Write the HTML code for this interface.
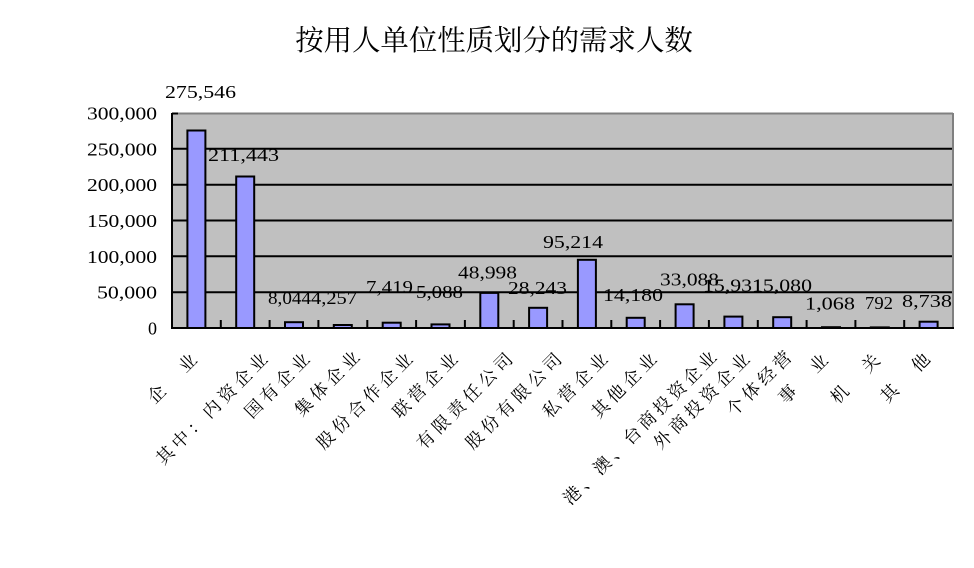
<!DOCTYPE html>
<html><head><meta charset="utf-8"><style>
html,body{margin:0;padding:0;background:#fff;}
svg{display:block;}
.cj{font-family:"Noto Serif CJK SC","Liberation Serif",serif;}
.nm{font-family:"Liberation Serif","Noto Serif CJK SC",serif;font-size:18px;fill:#000;}
</style></head><body>
<svg width="974" height="568" viewBox="0 0 974 568" xmlns="http://www.w3.org/2000/svg">
<rect x="0" y="0" width="974" height="568" fill="#fff"/>
<text class="cj" x="494" y="38.5" font-size="28.4" text-anchor="middle" dominant-baseline="central" fill="#000">按用人单位性质划分的需求人数</text>

<!-- plot area -->
<rect x="172" y="113" width="781" height="215" fill="#c0c0c0"/>
<g stroke="#000" stroke-width="2">
<line x1="172" y1="292.2" x2="953" y2="292.2"/>
<line x1="172" y1="256.3" x2="953" y2="256.3"/>
<line x1="172" y1="220.5" x2="953" y2="220.5"/>
<line x1="172" y1="184.7" x2="953" y2="184.7"/>
<line x1="172" y1="148.8" x2="953" y2="148.8"/>
</g>
<line x1="172" y1="113.5" x2="953" y2="113.5" stroke="#808080" stroke-width="2"/>
<line x1="953" y1="113" x2="953" y2="328" stroke="#808080" stroke-width="2"/>
<line x1="172" y1="113.5" x2="178" y2="113.5" stroke="#000" stroke-width="2"/>

<!-- bars -->
<g fill="#9999ff" stroke="#000" stroke-width="2">
<rect x="187.4" y="130.5" width="18" height="197.5"/>
<rect x="236.2" y="176.5" width="18" height="151.5"/>
<rect x="285" y="322.2" width="18" height="5.8"/>
<rect x="333.8" y="325" width="18" height="3"/>
<rect x="382.7" y="322.7" width="18" height="5.3"/>
<rect x="431.5" y="324.4" width="18" height="3.6"/>
<rect x="480.3" y="292.9" width="18" height="35.1"/>
<rect x="529.1" y="307.8" width="18" height="20.2"/>
<rect x="577.9" y="259.8" width="18" height="68.2"/>
<rect x="626.7" y="317.8" width="18" height="10.2"/>
<rect x="675.6" y="304.3" width="18" height="23.7"/>
<rect x="724.4" y="316.6" width="18" height="11.4"/>
<rect x="773.2" y="317.2" width="18" height="10.8"/>
<rect x="822" y="327.2" width="18" height="0.8"/>
<rect x="870.8" y="327.4" width="18" height="0.6"/>
<rect x="919.6" y="321.7" width="18" height="6.3"/>
</g>

<!-- axes -->
<line x1="172" y1="113" x2="172" y2="329" stroke="#000" stroke-width="2"/>
<line x1="171" y1="328" x2="954" y2="328" stroke="#000" stroke-width="2"/>
<g stroke="#000" stroke-width="2">
<line x1="220.8" y1="320" x2="220.8" y2="328"/>
<line x1="269.6" y1="320" x2="269.6" y2="328"/>
<line x1="318.4" y1="320" x2="318.4" y2="328"/>
<line x1="367.3" y1="320" x2="367.3" y2="328"/>
<line x1="416.1" y1="320" x2="416.1" y2="328"/>
<line x1="464.9" y1="320" x2="464.9" y2="328"/>
<line x1="513.7" y1="320" x2="513.7" y2="328"/>
<line x1="562.5" y1="320" x2="562.5" y2="328"/>
<line x1="611.3" y1="320" x2="611.3" y2="328"/>
<line x1="660.1" y1="320" x2="660.1" y2="328"/>
<line x1="708.9" y1="320" x2="708.9" y2="328"/>
<line x1="757.8" y1="320" x2="757.8" y2="328"/>
<line x1="806.6" y1="320" x2="806.6" y2="328"/>
<line x1="855.4" y1="320" x2="855.4" y2="328"/>
<line x1="904.2" y1="320" x2="904.2" y2="328"/>
</g>

<!-- y labels -->
<g class="nm" text-anchor="end">
<text x="157" y="119.5" textLength="70" lengthAdjust="spacingAndGlyphs">300,000</text>
<text x="157" y="155.3" textLength="70" lengthAdjust="spacingAndGlyphs">250,000</text>
<text x="157" y="191.2" textLength="70" lengthAdjust="spacingAndGlyphs">200,000</text>
<text x="157" y="227" textLength="70" lengthAdjust="spacingAndGlyphs">150,000</text>
<text x="157" y="262.8" textLength="70" lengthAdjust="spacingAndGlyphs">100,000</text>
<text x="157" y="298.7" textLength="60" lengthAdjust="spacingAndGlyphs">50,000</text>
<text x="157" y="334.5">0</text>
</g>

<!-- data labels -->
<g class="nm">
<text x="165" y="98" textLength="71" lengthAdjust="spacingAndGlyphs">275,546</text>
<text x="208" y="161" textLength="71" lengthAdjust="spacingAndGlyphs">211,443</text>
<text x="268" y="304" textLength="43" lengthAdjust="spacingAndGlyphs">8,044</text>
<text x="311" y="304" textLength="46" lengthAdjust="spacingAndGlyphs">4,257</text>
<text x="366" y="293" textLength="47" lengthAdjust="spacingAndGlyphs">7,419</text>
<text x="416" y="298" textLength="47" lengthAdjust="spacingAndGlyphs">5,088</text>
<text x="458" y="278.5" textLength="59" lengthAdjust="spacingAndGlyphs">48,998</text>
<text x="508" y="294" textLength="59" lengthAdjust="spacingAndGlyphs">28,243</text>
<text x="543" y="248" textLength="60" lengthAdjust="spacingAndGlyphs">95,214</text>
<text x="603" y="301" textLength="60" lengthAdjust="spacingAndGlyphs">14,180</text>
<text x="660" y="285.5" textLength="59" lengthAdjust="spacingAndGlyphs">33,088</text>
<text x="703" y="291.5" textLength="60" lengthAdjust="spacingAndGlyphs">15,931</text>
<text x="752" y="291.5" textLength="60" lengthAdjust="spacingAndGlyphs">15,080</text>
<text x="805" y="309.5" textLength="50" lengthAdjust="spacingAndGlyphs">1,068</text>
<text x="865" y="309" textLength="28" lengthAdjust="spacingAndGlyphs">792</text>
<text x="902" y="307" textLength="50" lengthAdjust="spacingAndGlyphs">8,738</text>
</g>

<!-- x labels -->
<g class="cj" font-size="17.5" fill="#000" dominant-baseline="central" letter-spacing="4.4">
<text transform="translate(150.2,399.9) rotate(-45)">企　业</text>
<text transform="translate(158.8,461.2) rotate(-45)">其中：内资企业</text>
<text transform="translate(247.3,414.7) rotate(-45)">国有企业</text>
<text transform="translate(297.3,412.7) rotate(-45)">集体企业</text>
<text transform="translate(319.3,445.7) rotate(-45)">股份合作企业</text>
<text transform="translate(395.3,414.7) rotate(-45)">联营企业</text>
<text transform="translate(419.3,445.7) rotate(-45)">有限责任公司</text>
<text transform="translate(468.3,445.7) rotate(-45)">股份有限公司</text>
<text transform="translate(545.3,414.7) rotate(-45)">私营企业</text>
<text transform="translate(594.3,414.7) rotate(-45)">其他企业</text>
<text transform="translate(565.8,501.2) rotate(-45)" letter-spacing="3.7">港、澳、台商投资企业</text>
<text transform="translate(656.3,445.7) rotate(-45)">外商投资企业</text>
<text transform="translate(729.3,412.7) rotate(-45)">个体经营</text>
<text transform="translate(781.2,400.2) rotate(-45)">事　业</text>
<text transform="translate(833.2,400.2) rotate(-45)">机　关</text>
<text transform="translate(883.2,399.2) rotate(-45)">其　他</text>
</g>
</svg>
</body></html>
